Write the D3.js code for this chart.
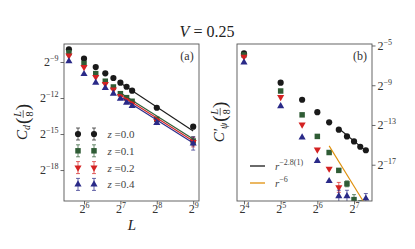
<!DOCTYPE html>
<html>
<head>
<meta charset="utf-8">
<script src="https://cdn.jsdelivr.net/npm/d3@7"></script>
<style>
  body { margin: 0; background: #fff; }
  svg text { font-family: "Liberation Serif", "DejaVu Serif", serif; }
</style>
</head>
<body>
<div id="chart"></div>
<script>
// Panel (a): system sizes L and log2 C_d(L/8) for every z
const sizesA = [48, 64, 80, 96, 112, 128, 144, 160, 256, 512];
const cdZ00 = [-7.94, -8.72, -9.42, -9.94, -10.33, -10.72, -11.06, -11.39, -12.81, -14.39];
const cdZ01 = [-8.22, -9.14, -9.97, -10.6, -11.08, -11.64, -11.97, -12.27, -13.77, -15.58];
const cdZ02 = [-8.46, -9.42, -10.25, -10.83, -11.29, -11.83, -12.17, -12.46, -13.92, -15.67];
const cdZ04 = [-8.94, -10.0, -10.72, -11.17, -11.64, -12.06, -12.39, -12.67, -14.08, -15.79];
// error bars (half width, in log2 units)
const cdErr00 = [0, 0, 0, 0, 0, 0, 0, 0, 0, 0.15];
const cdErr01 = [0, 0, 0, 0, 0, 0, 0, 0, 0, 0.35];
const cdErr02 = [0, 0, 0, 0, 0, 0, 0, 0, 0, 0.4];
const cdErr04 = [0, 0, 0, 0, 0, 0, 0, 0, 0, 0.55];
// fitted lines for panel (a): [L, log2 value] end points
const fitA00 = [[128, -10.75], [512, -14.75]];
const fitA01 = [[128, -11.58], [512, -15.42]];
const fitA02 = [[128, -11.75], [512, -15.58]];
const fitA04 = [[128, -11.92], [512, -15.75]];

// Panel (b): distances r and log2 C'_psi(L/8), null = outside the frame
const sizesB = [16, 32, 48, 64, 80, 96, 112, 128, 144, 160];
const cpZ00 = [-5.79, -8.74, -10.46, -11.71, -12.73, -13.47, -14.15, -14.65, -15.19, -15.54];
const cpZ01 = [-5.95, -9.58, -11.98, -14.15, -15.77, -17.57, -18.92, -20.51, -21.2, null];
const cpZ02 = [-6.13, -10.19, -12.96, -15.47, -17.4, -19.28, null, null, null, null];
const cpZ04 = [-6.71, -11.1, -14.25, -16.61, -18.64, -20.17, -20.17, null, null, -20.4];
const cpErr00 = [0, 0, 0, 0, 0, 0, 0, 0, 0, 0];
const cpErr01 = [0, 0, 0, 0, 0, 0, 0.3, 0.5, 0.6, 0];
const cpErr02 = [0, 0, 0, 0, 0, 0.5, 0, 0, 0, 0];
const cpErr04 = [0, 0, 0, 0, 0, 0.6, 0.6, 0, 0, 0.5];
const fitB28 = [[96, -13.35], [160, -15.6]];
const fitB6 = [[80, -15.1], [160, -21.1]];

// tick exponents
const xTicksA = [6, 7, 8, 9];
const yTicksA = [-9, -12, -15, -18];
const xTicksB = [4, 5, 6, 7];
const yTicksB = [-5, -9, -13, -17];

const zLabels = ["0.0", "0.1", "0.2", "0.4"];
const fitLabels = [["r", "−2.8(1)"], ["r", "−6"]];

const colors = ["#1a1a1a", "#2f5c35", "#d42222", "#2a2a88"];
const orange = "#e0900c";
const shapes = ["circle", "square", "down", "up"];
const serif = "Liberation Serif";
const textColor = "#333";

const width = 415, height = 249;

const svg = d3.select("#chart")
  .append("svg")
    .attr("width", width)
    .attr("height", height);

// Panel frames in pixels
const pa = {left: 64, right: 199, top: 44, bottom: 201};
const pb = {left: 237, right: 372, top: 44, bottom: 201};

const xA = d3.scaleLog().base(2).domain([2 ** 5.45, 2 ** 9.16]).range([pa.left, pa.right]);
const yA = d3.scaleLog().base(2).domain([2 ** -7.5, 2 ** -20.58]).range([pa.top, pa.bottom]);
const xB = d3.scaleLog().base(2).domain([2 ** 3.81, 2 ** 7.49]).range([pb.left, pb.right]);
const yB = d3.scaleLog().base(2).domain([2 ** -4.85, 2 ** -20.65]).range([pb.top, pb.bottom]);

// clip paths for both panels
const defs = svg.append("defs");
[["clipA", pa], ["clipB", pb]].forEach(([id, p]) => {
  defs.append("clipPath").attr("id", id)
    .append("rect")
      .attr("x", p.left).attr("y", p.top)
      .attr("width", p.right - p.left).attr("height", p.bottom - p.top);
});

// symbol generator for the four marker types
function markerPath(shape) {
  if (shape === "circle") return d3.symbol(d3.symbolCircle, 30)();
  if (shape === "square") return d3.symbol(d3.symbolSquare, 30)();
  return d3.symbol(d3.symbolTriangle, 22)();
}
function drawMarker(g, shape, cx, cy, color) {
  g.append("path")
    .attr("d", markerPath(shape))
    .attr("transform", `translate(${cx},${cy})` + (shape === "down" ? " rotate(180)" : ""))
    .attr("fill", color);
}
function drawErr(g, cx, yTop, yBot, color) {
  g.append("line").attr("x1", cx).attr("x2", cx).attr("y1", yTop).attr("y2", yBot)
    .attr("stroke", color).attr("stroke-opacity", 0.7).attr("stroke-width", 1);
  [yTop, yBot].forEach(yy => {
    g.append("line").attr("x1", cx - 2).attr("x2", cx + 2).attr("y1", yy).attr("y2", yy)
      .attr("stroke", color).attr("stroke-opacity", 0.7).attr("stroke-width", 1);
  });
}

// draw one data series (values are log2)
function drawSeries(g, x, y, sizes, vals, errs, shape, color) {
  sizes.forEach((L, i) => {
    const v = vals[i];
    if (v === null) return;
    if (errs[i] > 0) drawErr(g, x(L), y(2 ** (v + errs[i])), y(2 ** (v - errs[i])), color);
    drawMarker(g, shape, x(L), y(2 ** v), color);
  });
}

const line = (x, y) => d3.line().x(d => x(d[0])).y(d => y(2 ** d[1]));

// ---------- panel (a) ----------
const gA = svg.append("g").attr("clip-path", "url(#clipA)");
const seriesA = [cdZ00, cdZ01, cdZ02, cdZ04];
const errsA = [cdErr00, cdErr01, cdErr02, cdErr04];
const fitsA = [fitA00, fitA01, fitA02, fitA04];
seriesA.forEach((s, k) => drawSeries(gA, xA, yA, sizesA, s, errsA[k], shapes[k], colors[k]));
fitsA.forEach((f, k) => {
  gA.append("path").datum(f)
    .attr("fill", "none").attr("stroke", colors[k]).attr("stroke-width", 1.1)
    .attr("d", line(xA, yA));
});

// ---------- panel (b) ----------
const gB = svg.append("g").attr("clip-path", "url(#clipB)");
const seriesB = [cpZ00, cpZ01, cpZ02, cpZ04];
const errsB = [cpErr00, cpErr01, cpErr02, cpErr04];
seriesB.forEach((s, k) => drawSeries(gB, xB, yB, sizesB, s, errsB[k], shapes[k], colors[k]));
gB.append("path").datum(fitB28)
  .attr("fill", "none").attr("stroke", colors[0]).attr("stroke-width", 1.1)
  .attr("d", line(xB, yB));
gB.append("path").datum(fitB6)
  .attr("fill", "none").attr("stroke", orange).attr("stroke-width", 1.1)
  .attr("d", line(xB, yB));

// ---------- axes ----------
// turn tick text into "2" with a superscript exponent
function powerLabels(sel) {
  sel.attr("font-family", serif);
  sel.selectAll(".tick text").each(function(d) {
    const e = Math.round(Math.log2(d));
    const t = d3.select(this).text(null)
      .attr("font-size", 12).attr("fill", textColor);
    t.append("tspan").text("2");
    t.append("tspan").attr("dy", -5).attr("font-size", 8).text(String(e).replace("-", "−"));
  });
}
function styleAxis(g) {
  g.select(".domain").remove();
  g.selectAll(".tick line").attr("stroke", "#444").attr("stroke-width", 0.8);
}

svg.append("g")
  .attr("transform", `translate(0,${pa.bottom})`)
  .call(d3.axisBottom(xA).tickValues(xTicksA.map(e => 2 ** e)).tickSize(3.5).tickPadding(0))
  .call(styleAxis).call(powerLabels);
svg.append("g")
  .attr("transform", `translate(${pa.left},0)`)
  .call(d3.axisLeft(yA).tickValues(yTicksA.map(e => 2 ** e)).tickSize(3.5).tickPadding(2))
  .call(styleAxis).call(powerLabels);
svg.append("g")
  .attr("transform", `translate(0,${pb.bottom})`)
  .call(d3.axisBottom(xB).tickValues(xTicksB.map(e => 2 ** e)).tickSize(3.5).tickPadding(0))
  .call(styleAxis).call(powerLabels);
svg.append("g")
  .attr("transform", `translate(${pb.right},0)`)
  .call(d3.axisRight(yB).tickValues(yTicksB.map(e => 2 ** e)).tickSize(3.5).tickPadding(2))
  .call(styleAxis).call(powerLabels);

// frames
[pa, pb].forEach(p => {
  svg.append("rect")
    .attr("x", p.left).attr("y", p.top)
    .attr("width", p.right - p.left).attr("height", p.bottom - p.top)
    .attr("fill", "none").attr("stroke", "#555").attr("stroke-width", 0.9);
});

// panel tags
svg.append("text").attr("x", 187).attr("y", 60).attr("text-anchor", "middle")
  .attr("font-size", 12).attr("fill", textColor).text("(a)");
svg.append("text").attr("x", 360).attr("y", 60).attr("text-anchor", "middle")
  .attr("font-size", 12).attr("fill", textColor).text("(b)");

// title
const title = svg.append("text").attr("x", 207).attr("y", 36.5).attr("text-anchor", "middle")
  .attr("font-size", 16).attr("fill", "#222");
title.append("tspan").attr("font-style", "italic").text("V");
title.append("tspan").text(" = 0.25");

// x label
svg.append("text").attr("x", 132).attr("y", 230).attr("text-anchor", "middle")
  .attr("font-size", 15).attr("font-style", "italic").attr("fill", "#222").text("L");

// rotated y label of the form C_sub(L/8)
function yLabel(cx, cy, main, sub) {
  const outer = svg.append("g").attr("transform", `translate(${cx},${cy}) rotate(-90)`);
  const g = outer.append("g").attr("fill", "#222");
  let x = 0;
  const piece = (txt, size, y, italic) => {
    const t = g.append("text").attr("x", x).attr("y", y).attr("font-size", size)
      .attr("font-style", italic ? "italic" : "normal").text(txt);
    const w = t.node().getComputedTextLength();
    return {t, w};
  };
  let p = piece(main, 15, 5, true); x += p.w;
  p = piece(sub, 10, 8, true); x += p.w + 1;
  p = piece("(", 19, 7, false); x += p.w;
  const num = g.append("text").attr("y", -1.5).attr("font-size", 10)
    .attr("font-style", "italic").attr("text-anchor", "middle").text("L");
  const den = g.append("text").attr("y", 10.5).attr("font-size", 10)
    .attr("text-anchor", "middle").text("8");
  const fw = Math.max(num.node().getComputedTextLength(), den.node().getComputedTextLength()) + 2;
  num.attr("x", x + fw / 2); den.attr("x", x + fw / 2);
  g.append("line").attr("x1", x).attr("x2", x + fw).attr("y1", 1.2).attr("y2", 1.2)
    .attr("stroke", "#222").attr("stroke-width", 0.7);
  x += fw;
  p = piece(")", 19, 7, false); x += p.w;
  g.attr("transform", `translate(${-x / 2},0)`);
}
yLabel(22, 122, "C", "d");
yLabel(219, 122, "C′", "ψ");

// ---------- legends ----------
zLabels.forEach((z, k) => {
  const yy = 134 + k * 16.8;
  [78, 94].forEach(cx => {
    drawErr(svg, cx, yy - 6, yy + 6, colors[k]);
    drawMarker(svg, shapes[k], cx, yy, colors[k]);
  });
  const t = svg.append("text").attr("x", 107.5).attr("y", yy + 4)
    .attr("font-size", 11).attr("fill", "#444");
  t.append("tspan").attr("font-style", "italic").text("z");
  t.append("tspan").text(" =" + z);
});

fitLabels.forEach((lab, k) => {
  const yy = 166 + k * 17;
  svg.append("line").attr("x1", 250).attr("x2", 265).attr("y1", yy).attr("y2", yy)
    .attr("stroke", k === 0 ? colors[0] : orange).attr("stroke-width", 1.3);
  const t = svg.append("text").attr("x", 275).attr("y", yy + 3.5)
    .attr("font-size", 11).attr("fill", "#444");
  t.append("tspan").attr("font-style", "italic").text(lab[0]);
  t.append("tspan").attr("dy", -5).attr("font-size", 8).text(lab[1]);
});
</script>
</body>
</html>
